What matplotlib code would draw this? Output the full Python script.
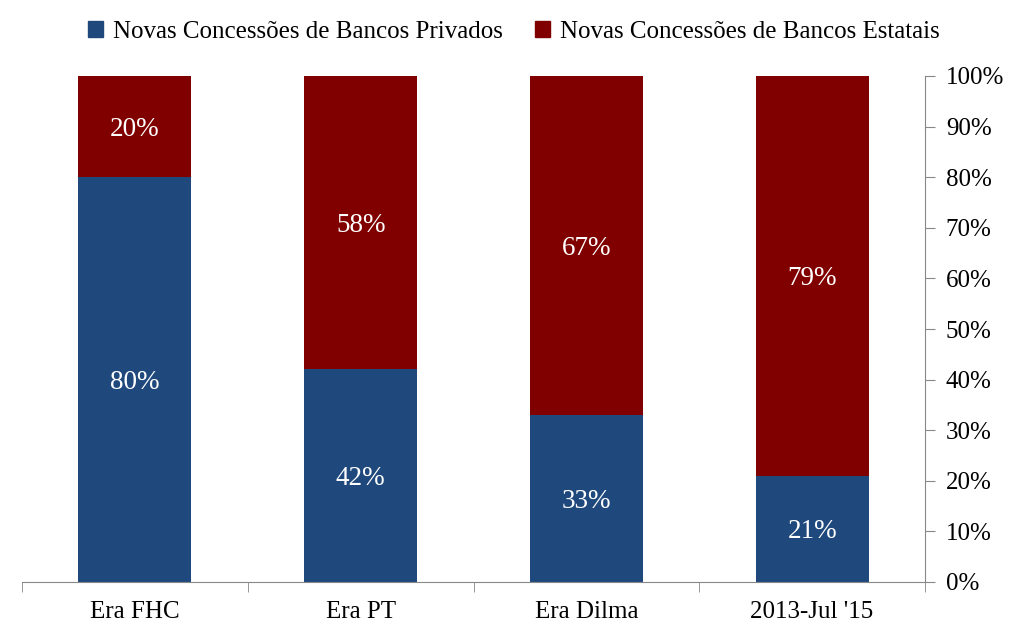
import numpy as np
import matplotlib.pyplot as plt
from matplotlib.patches import Patch
from matplotlib.ticker import FuncFormatter

# dados
categorias = ["Era FHC", "Era PT", "Era Dilma", "2013-Jul '15"]
privados = [80, 42, 33, 21]
estatais = [20, 58, 67, 79]

cor_priv = "#1F497D"
cor_est = "#800000"

plt.rcParams['font.family'] = ['Liberation Serif', 'DejaVu Serif']

fig = plt.figure(figsize=(10.19, 6.38), dpi=100)
ax = fig.add_axes([22 / 1019, 56 / 638, 903 / 1019, 506 / 638])

x = np.arange(len(categorias))
b1 = ax.bar(x, privados, width=0.5, color=cor_priv)
b2 = ax.bar(x, estatais, width=0.5, bottom=privados, color=cor_est)

for i in range(len(categorias)):
    ax.text(x[i], privados[i] / 2, "{}%".format(privados[i]), ha='center', va='center_baseline',
            color='white', fontsize=19.5)
    ax.text(x[i], privados[i] + estatais[i] / 2, "{}%".format(estatais[i]), ha='center',
            va='center_baseline', color='white', fontsize=19.5)

ax.set_xlim(-0.5, len(categorias) - 0.5)
ax.set_ylim(0, 100)
ax.yaxis.tick_right()
ax.set_yticks(np.arange(0, 101, 10))
ax.yaxis.set_major_formatter(FuncFormatter(lambda v, p: "{:d}%".format(int(v))))

ax.set_xticks(x)
ax.set_xticklabels(categorias)
ax.set_xticks(np.arange(-0.5, len(categorias), 1), minor=True)
ax.tick_params(axis='x', which='major', length=0, pad=14, labelsize=18)
ax.tick_params(axis='x', which='minor', length=7, color='#888888')
ax.tick_params(axis='y', length=7, color='#888888', pad=8, labelsize=18)

for s in ['top', 'left']:
    ax.spines[s].set_visible(False)
ax.spines['bottom'].set_color('#888888')
ax.spines['right'].set_color('#888888')

handles = [Patch(color=cor_priv), Patch(color=cor_est)]
fig.legend(handles, ["Novas Concessões de Bancos Privados", "Novas Concessões de Bancos Estatais"],
           loc='center', bbox_to_anchor=(514 / 1019, 1 - 32 / 638), ncol=2, frameon=False,
           fontsize=18, handlelength=0.6, handleheight=0.6, handletextpad=0.4,
           columnspacing=1.3)

fig.savefig("out.png", dpi=100)
